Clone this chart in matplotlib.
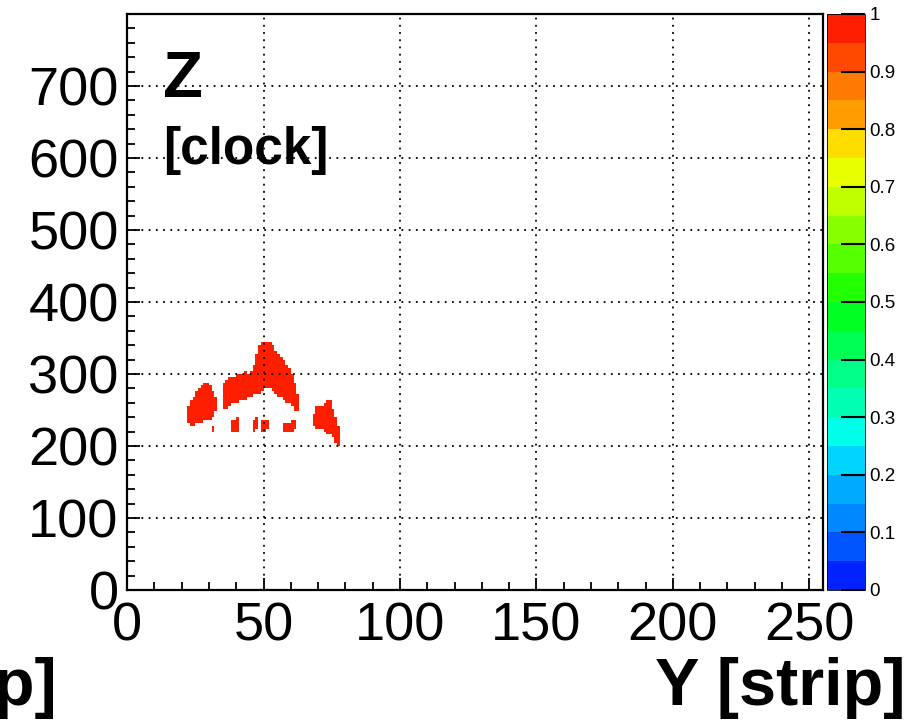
"""Z [clock] vs Y [strip] hit map, ROOT colz style."""

import matplotlib

matplotlib.use("Agg")

import matplotlib.pyplot as plt
import numpy as np
from matplotlib.colors import ListedColormap
from matplotlib.ticker import MultipleLocator

plt.rcParams["font.family"] = ["Liberation Sans", "DejaVu Sans"]

# hit segments: strip, lowest clock, highest clock
LEFT_STRIPS = [22, 23, 24, 25, 26, 27, 28, 29, 30, 31, 32, 31]
LEFT_LO = [236, 232, 232, 233, 233, 236, 239, 239, 240, 243, 250, 224]
LEFT_HI = [253, 261, 264, 275, 279, 281, 286, 287, 281, 274, 267, 227]

ARCH_STRIPS = [35, 36, 37, 38, 39, 40, 41, 42, 43, 44, 45, 46, 47, 48, 49,
               50, 51, 52, 53, 54, 55, 56, 57, 58, 59, 60, 61, 62]
ARCH_LO = [253, 256, 260, 261, 262, 264, 265, 267, 268, 269, 271, 274, 275,
           276, 279, 281, 282, 281, 278, 275, 272, 269, 267, 264, 261, 257,
           251, 250]
ARCH_HI = [285, 290, 294, 294, 294, 296, 299, 299, 300, 299, 301, 308, 326,
           336, 340, 343, 343, 340, 336, 331, 325, 322, 317, 311, 306, 296,
           285, 271]

# small pieces under the arch
BITS_STRIPS = [38, 39, 40, 46, 47, 49, 50, 51, 57, 58, 59, 60, 61]
BITS_LO = [224, 222, 224, 224, 226, 222, 222, 226, 222, 224, 224, 224, 226]
BITS_HI = [232, 234, 236, 234, 236, 234, 232, 232, 228, 230, 230, 232, 232]

RIGHT_STRIPS = [68, 69, 70, 71, 72, 73, 74, 75, 76, 77]
RIGHT_LO = [229, 226, 225, 225, 224, 219, 218, 214, 208, 204]
RIGHT_HI = [243, 253, 253, 254, 257, 260, 260, 250, 239, 226]

HIT_VALUE = 1.0

X_TICKS = [0, 50, 100, 150, 200, 250]
Y_TICKS = [0, 100, 200, 300, 400, 500, 600, 700]
Z_TICKS = [0, 0.1, 0.2, 0.3, 0.4, 0.5, 0.6, 0.7, 0.8, 0.9, 1]
Z_LABELS = ["0", "0.1", "0.2", "0.3", "0.4", "0.5", "0.6", "0.7", "0.8",
            "0.9", "1"]

# ROOT-like rainbow palette, 20 bands from bottom to top
PALETTE = ["#0022ff", "#0055ff", "#0088ff", "#00aaff", "#00d4ff", "#00ffe8",
           "#00ffb0", "#00ff88", "#00ff55", "#00ff22", "#22ff00", "#55ff00",
           "#88ff00", "#c0ff00", "#e8ff00", "#ffdd00", "#ff9c00", "#ff7a00",
           "#ff4800", "#ff1e00"]

N_STRIPS = 255
N_CLOCK = 800
CLOCK_BIN = 4

x_edges = np.arange(0, N_STRIPS + 1, 1)
y_edges = np.arange(0, N_CLOCK + 1, CLOCK_BIN)
y_centers = 0.5 * (y_edges[:-1] + y_edges[1:])
grid = np.zeros((len(y_edges) - 1, len(x_edges) - 1))

for strips, lo, hi in ((LEFT_STRIPS, LEFT_LO, LEFT_HI),
                       (ARCH_STRIPS, ARCH_LO, ARCH_HI),
                       (BITS_STRIPS, BITS_LO, BITS_HI),
                       (RIGHT_STRIPS, RIGHT_LO, RIGHT_HI)):
    for s, a, b in zip(strips, lo, hi):
        rows = (y_centers >= a - CLOCK_BIN / 2) & (y_centers <= b + CLOCK_BIN / 2)
        grid[rows, s] = HIT_VALUE

grid = np.ma.masked_equal(grid, 0)

fig = plt.figure(figsize=(9.1, 7.23), dpi=100)
ax = fig.add_axes([0.1396, 0.184, 0.7648, 0.7967])
cax = fig.add_axes([0.9088, 0.184, 0.0418, 0.7967])

cmap = ListedColormap(PALETTE)
mesh = ax.pcolormesh(x_edges, y_edges, grid, cmap=cmap, vmin=0, vmax=1)

ax.set_xlim(0, N_STRIPS)
ax.set_ylim(0, N_CLOCK)
ax.set_xticks(X_TICKS)
ax.set_yticks(Y_TICKS)
ax.xaxis.set_minor_locator(MultipleLocator(10))
ax.yaxis.set_minor_locator(MultipleLocator(20))
ax.tick_params(which="both", direction="in", top=False, right=False,
               width=1.3, labelsize=39)
ax.tick_params(which="major", length=9)
ax.tick_params(which="minor", length=6)
ax.tick_params(axis="x", pad=8)
ax.tick_params(axis="y", pad=6)
ax.grid(True, which="major", color="black", linestyle=(0, (1, 3)),
        linewidth=1.3)
for sp in ax.spines.values():
    sp.set_linewidth(1.6)

ax.text(0.052, 0.856, "Z", transform=ax.transAxes, fontsize=47,
        fontweight="bold", va="baseline", ha="left")
ax.text(0.052, 0.74, "[clock]", transform=ax.transAxes, fontsize=37,
        fontweight="bold", va="baseline", ha="left")

cb = fig.colorbar(mesh, cax=cax, ticks=Z_TICKS)
cb.ax.set_yticklabels(Z_LABELS)
cb.ax.tick_params(direction="in", length=17, width=1.5, labelsize=13.5,
                  pad=3)
cb.outline.set_linewidth(0.6)

fig.text(0.995, 0.005, "Y [strip]", fontsize=48, fontweight="bold",
         ha="right", va="bottom")
fig.text(0.062, 0.005, "X [strip]", fontsize=48, fontweight="bold",
         ha="right", va="bottom")

fig.savefig("out.png", dpi=100)
plt.close(fig)
